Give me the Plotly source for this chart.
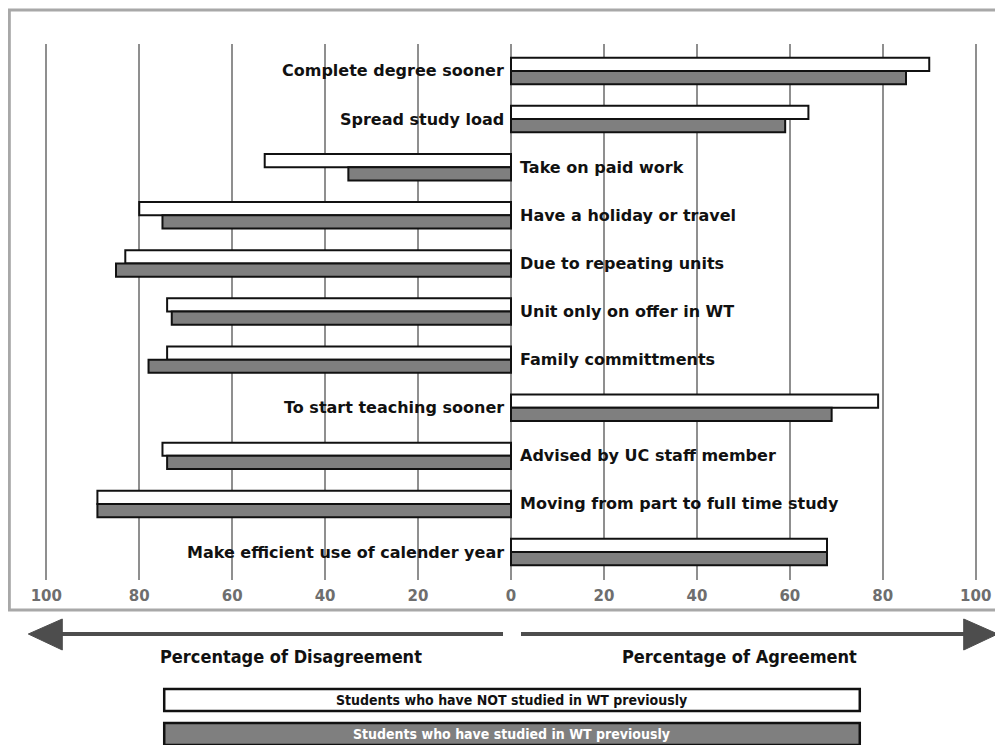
import plotly.graph_objects as go

# ---------------- data ----------------
categories = [
    "Complete degree sooner",
    "Spread study load",
    "Take on paid work",
    "Have a holiday or travel",
    "Due to repeating units",
    "Unit only on offer in WT",
    "Family committments",
    "To start teaching sooner",
    "Advised by UC staff member",
    "Moving from part to full time study",
    "Make efficient use of calender year",
]
# positive = percentage of agreement, negative = percentage of disagreement
not_studied_wt = [90, 64, -53, -80, -83, -74, -74, 79, -75, -89, 68]
studied_wt = [85, 59, -35, -75, -85, -73, -78, 69, -74, -89, 68]

tick_vals = [-100, -80, -60, -40, -20, 0, 20, 40, 60, 80, 100]
tick_text = ["100", "80", "60", "40", "20", "0", "20", "40", "60", "80", "100"]

series_names = [
    "Students who have NOT studied in WT previously",
    "Students who have studied in WT previously",
]
side_titles = ["Percentage of Disagreement", "Percentage of Agreement"]

# ---------------- layout geometry (screen pixels) ----------------
OFF = 8  # page body margin
W, H = 1003 - OFF, 745 - OFF
XMIN, XMAX = -102, 102
PXU = 4.65
ZERO_PX = 511
PL = ZERO_PX + XMIN * PXU
PR = ZERO_PX + XMAX * PXU
PT, PB = 44, 580


def fx(px):
    return (px - PL) / (PR - PL)


def fy(py):
    return (PB - py) / (PB - PT)


fig = go.Figure()
fig.add_trace(go.Bar(
    y=categories, x=not_studied_wt, orientation="h", name=series_names[0],
    marker=dict(color="#ffffff", line=dict(color="#111111", width=2)),
    hoverinfo="skip",
))
fig.add_trace(go.Bar(
    y=categories, x=studied_wt, orientation="h", name=series_names[1],
    marker=dict(color="#7f7f7f", line=dict(color="#111111", width=2)),
    hoverinfo="skip",
))

# category labels beside zero line
annotations = []
for cat, v in zip(categories, not_studied_wt):
    agree = v > 0
    annotations.append(dict(
        x=0, y=cat, xref="x", yref="y", text=cat, showarrow=False,
        xanchor="right" if agree else "left", yanchor="middle",
        xshift=-5 if agree else 7,
        font=dict(family="DejaVu Sans", size=16, color="#111111", weight="bold"),
    ))

# side titles
TITLE_FONT = dict(family="DejaVu Sans Condensed, Liberation Sans Narrow, Liberation Sans",
                  size=18, color="#111111", weight="bold")
annotations.append(dict(x=fx(291), y=fy(657), xref="paper", yref="paper", text=side_titles[0],
                        showarrow=False, xanchor="center", yanchor="middle", font=TITLE_FONT))
annotations.append(dict(x=fx(740), y=fy(657), xref="paper", yref="paper", text=side_titles[1],
                        showarrow=False, xanchor="center", yanchor="middle", font=TITLE_FONT))

# legend texts
LEG_FONT = "DejaVu Sans Condensed, Liberation Sans Narrow, Liberation Sans"
annotations.append(dict(x=fx(512), y=fy(700), xref="paper", yref="paper", text=series_names[0],
                        showarrow=False, xanchor="center", yanchor="middle",
                        font=dict(family=LEG_FONT, size=14, color="#111111", weight="bold")))
annotations.append(dict(x=fx(512), y=fy(734), xref="paper", yref="paper", text=series_names[1],
                        showarrow=False, xanchor="center", yanchor="middle",
                        font=dict(family=LEG_FONT, size=14, color="#ffffff", weight="bold")))

shapes = []
# outer frame
shapes.append(dict(type="rect", xref="paper", yref="paper",
                   x0=fx(9), x1=fx(1012), y0=fy(610), y1=fy(10),
                   line=dict(color="#a8a8a8", width=3), fillcolor="rgba(0,0,0,0)", layer="below"))
# arrows
ARROW_C = "#4d4d4d"
shapes.append(dict(type="line", xref="paper", yref="paper", x0=fx(55), x1=fx(503),
                   y0=fy(634), y1=fy(634), line=dict(color=ARROW_C, width=4)))
shapes.append(dict(type="line", xref="paper", yref="paper", x0=fx(521), x1=fx(970),
                   y0=fy(634), y1=fy(634), line=dict(color=ARROW_C, width=4)))
shapes.append(dict(type="path", xref="paper", yref="paper",
                   path=f"M {fx(28)} {fy(634)} L {fx(62)} {fy(619)} L {fx(62)} {fy(650)} Z",
                   fillcolor=ARROW_C, line=dict(color=ARROW_C, width=1)))
shapes.append(dict(type="path", xref="paper", yref="paper",
                   path=f"M {fx(998)} {fy(634)} L {fx(964)} {fy(619)} L {fx(964)} {fy(650)} Z",
                   fillcolor=ARROW_C, line=dict(color=ARROW_C, width=1)))
# legend boxes
shapes.append(dict(type="rect", xref="paper", yref="paper", x0=fx(164), x1=fx(860),
                   y0=fy(711), y1=fy(689), fillcolor="#ffffff", line=dict(color="#111111", width=2.5)))
shapes.append(dict(type="rect", xref="paper", yref="paper", x0=fx(164), x1=fx(860),
                   y0=fy(745), y1=fy(723), fillcolor="#7f7f7f", line=dict(color="#111111", width=2.5)))

fig.update_layout(
    width=W, height=H,
    margin=dict(l=PL - OFF, r=(W + OFF) - PR, t=PT - OFF, b=(H + OFF) - PB, pad=0),
    paper_bgcolor="#ffffff", plot_bgcolor="#ffffff",
    barmode="group", bargap=0.45, bargroupgap=0,
    showlegend=False,
    xaxis=dict(range=[XMIN, XMAX], tickvals=tick_vals, ticktext=tick_text,
               showgrid=True, gridcolor="#8f8f8f", gridwidth=2, zeroline=False,
               showline=False, ticks="", ticklabelstandoff=5,
               tickfont=dict(family="DejaVu Sans", size=15, color="#6e6e6e", weight="bold")),
    yaxis=dict(range=[10.58, -0.56], showticklabels=False, showgrid=False,
               zeroline=False, showline=False, ticks=""),
    annotations=annotations,
    shapes=shapes,
)

fig.write_html("out.html")
